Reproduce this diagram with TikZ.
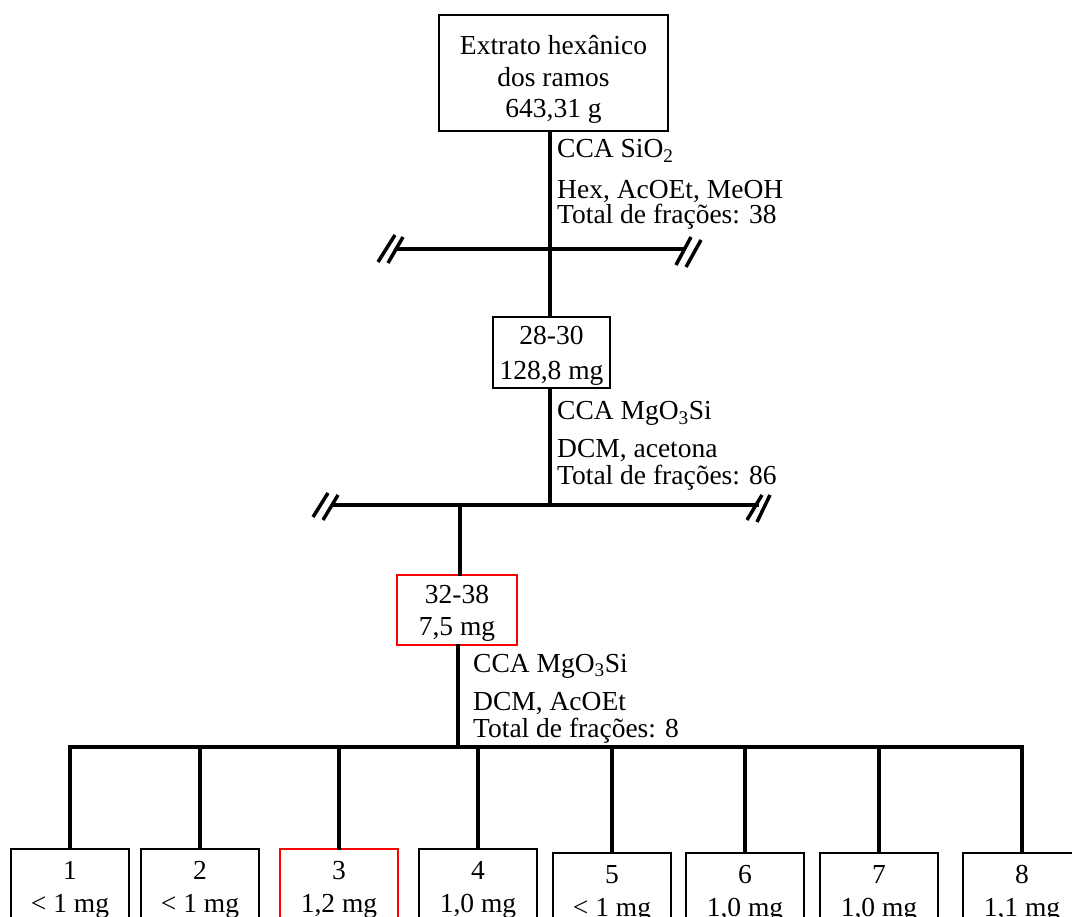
\documentclass[tikz,border=0pt]{standalone}
\usepackage{fontspec}
\setmainfont{Liberation Serif}
\newcommand{\upr}[1]{\rule{0pt}{#1}}
\begin{document}
\begin{tikzpicture}[x=1pt,y=-1pt,
  every node/.style={font=\fontsize{27.5}{33}\selectfont, inner sep=0pt},
  box/.style={draw=black, line width=1.8pt, align=center},
  redbox/.style={box, draw=red},
  fbox/.style={box, minimum width=118, minimum height=76},
  lab/.style={anchor=base west},
  conn/.style={line width=3.5pt, line cap=rect},
  hash/.style={line width=3.5pt}]
\useasboundingbox (0,0) rectangle (1072,917);
\clip (0,0) rectangle (1072,917);
% boxes
\node[box, minimum width=229, minimum height=116, font=\fontsize{27.5}{31.5}\selectfont] (top) at (553.5,73) {\upr{32pt}Extrato hexânico\\dos ramos\\643,31 g};
\node[box, minimum width=117, minimum height=71] (f2830) at (551.5,352.5) {\upr{25pt}28-30\\[2pt]128,8 mg};
\node[redbox, minimum width=120, minimum height=70] (f3238) at (457,610) {\upr{24pt}32-38\\[-1pt]7,5 mg};
\node[fbox] (b1) at (70,887) {\upr{23pt}1\\< 1 mg};
\node[fbox] (b2) at (200,887) {\upr{23pt}2\\< 1 mg};
\node[fbox, draw=red] (b3) at (339,887) {\upr{23pt}3\\1,2 mg};
\node[fbox] (b4) at (478,887) {\upr{23pt}4\\1,0 mg};
\node[fbox] (b5) at (612,891) {\upr{23pt}5\\< 1 mg};
\node[fbox] (b6) at (745,891) {\upr{23pt}6\\1,0 mg};
\node[fbox] (b7) at (879,891) {\upr{23pt}7\\1,0 mg};
\node[fbox] (b8) at (1022,891) {\upr{23pt}8\\1,1 mg};
% labels
\node[lab] (l1a) at (557,158) {CCA SiO\textsubscript{2}};
\node[lab] (l1b) at (557,199) {Hex, AcOEt, MeOH};
\node[lab] (l1c) at (557,224) {Total de frações: 38};
\node[lab] (l2a) at (557,420) {CCA MgO\textsubscript{3}Si};
\node[lab] (l2b) at (557,458) {DCM, acetona};
\node[lab] (l2c) at (557,485) {Total de frações: 86};
\node[lab] (l3a) at (473,672) {CCA MgO\textsubscript{3}Si};
\node[lab] (l3b) at (473,710) {DCM, AcOEt};
\node[lab] (l3c) at (473,737) {Total de frações: 8};
% coordinates
\coordinate (v1) at (550,0);
\coordinate (v2) at (460,0);
\coordinate (v3) at (458,0);
\coordinate (h1L) at (398,249);
\coordinate (h1R) at (683,249);
\coordinate (h2L) at (333,505);
\coordinate (h2R) at (757,505);
\coordinate (h3L) at (70,747);
\coordinate (h3R) at (1022,747);
% connectors
\draw[conn] (top.south -| v1) -- (f2830.north -| v1);
\draw[conn] (h1L) -- (h1R);
\draw[hash] (378,262) -- (395,235);
\draw[hash] (388,263) -- (403,237);
\draw[hash] (676,265) -- (691,237);
\draw[hash] (686,267) -- (701,240);
\draw[conn] (f2830.south -| v1) -- (v1 |- h2L);
\draw[conn] (h2L) -- (h2R);
\draw[hash] (313,517) -- (328,493);
\draw[hash] (323,520) -- (338,495);
\draw[hash] (747,520) -- (762,495);
\draw[hash] (757,522) -- (770,495);
\draw[conn] (v2 |- h2L) -- (f3238.north -| v2);
\draw[conn] (f3238.south -| v3) -- (v3 |- h3L);
\draw[conn, line width=4pt] (h3L) -- (h3R);
\foreach \b in {b1,b2,b3,b4,b5,b6,b7,b8}
  \draw[conn] (\b.north |- h3L) -- (\b.north);
\end{tikzpicture}
\end{document}
